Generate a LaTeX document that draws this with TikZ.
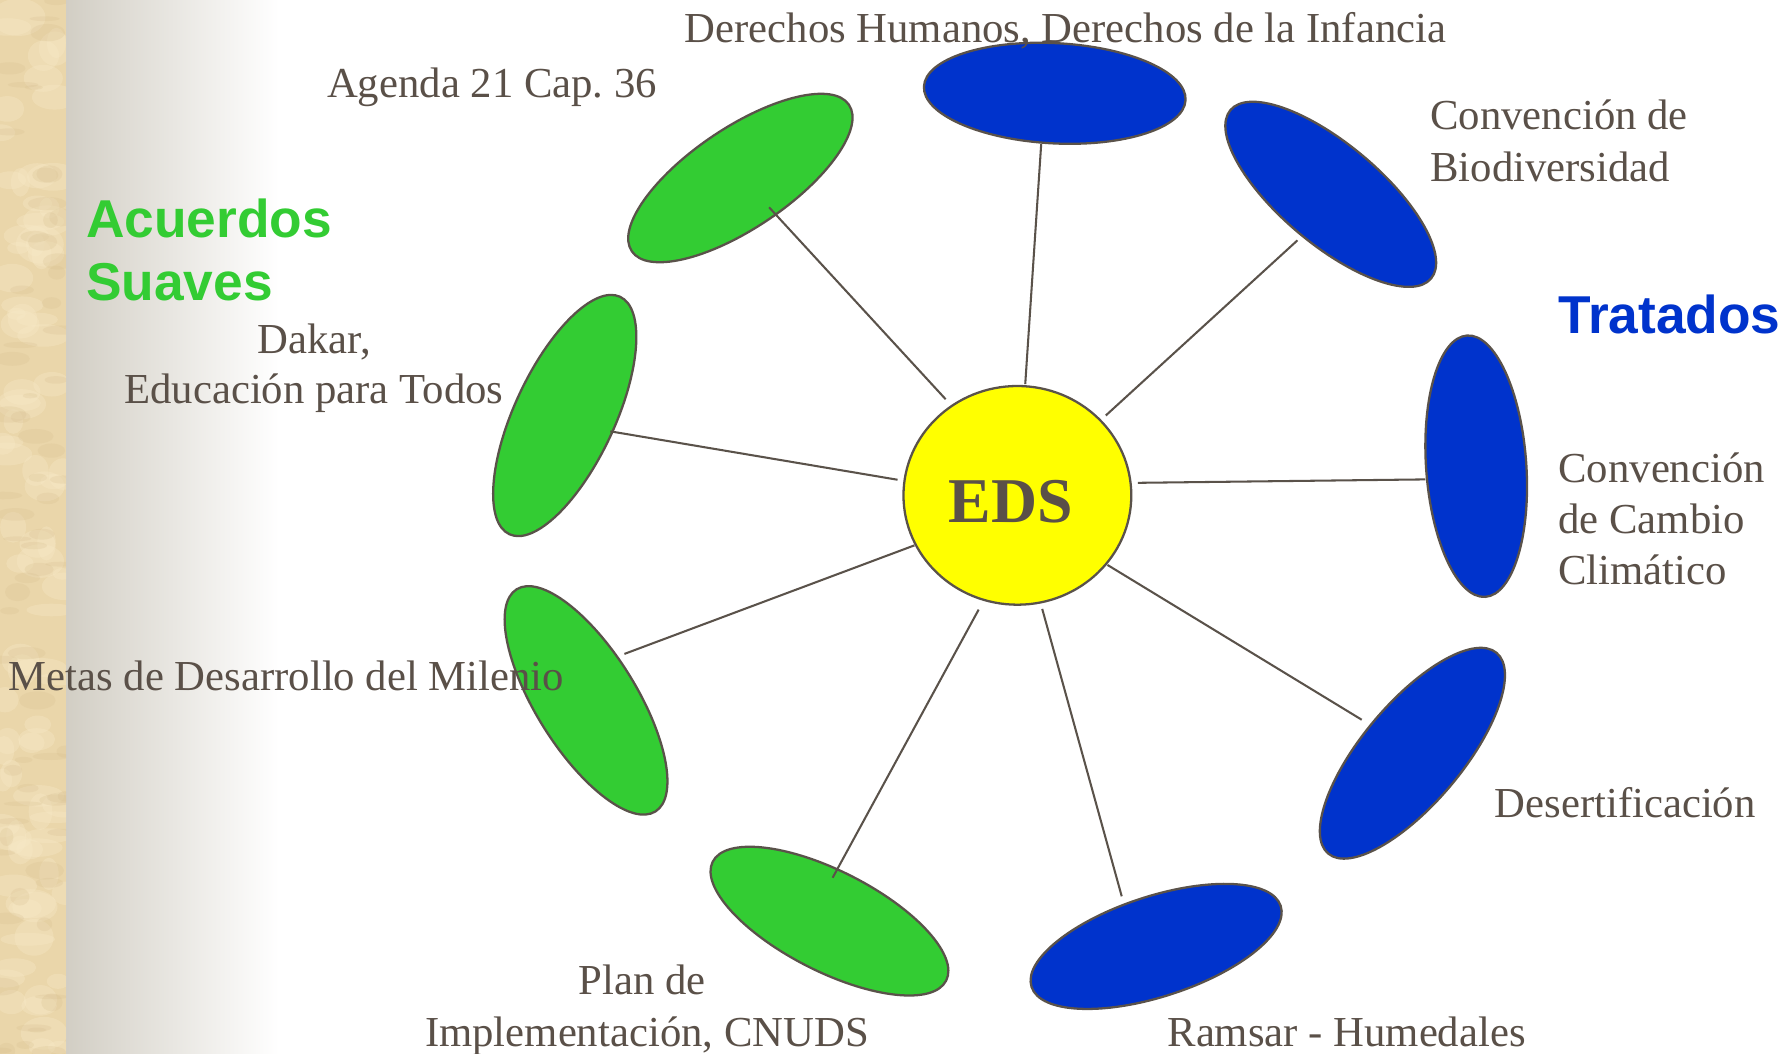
\documentclass[tikz,border=0pt]{standalone}
\usepackage{fontspec}
\setmainfont{Liberation Serif}
\newfontfamily\headfont{Liberation Sans}
\usetikzlibrary{shapes.geometric}
\definecolor{grc}{RGB}{51,204,51}
\definecolor{blc}{RGB}{0,51,204}
\definecolor{yel}{RGB}{255,255,0}
\definecolor{edgec}{RGB}{90,82,74}
\definecolor{txtc}{RGB}{90,80,72}
\definecolor{beige}{RGB}{234,214,170}
\definecolor{beigeL}{RGB}{248,234,200}
\definecolor{beigeD}{RGB}{212,188,140}
\definecolor{grayL}{RGB}{210,206,196}
\tikzset{
  lbl/.style={font=\fontsize{37.5}{45}\selectfont, text=txtc, inner sep=0pt},
  head/.style={font=\headfont\bfseries\fontsize{46.8}{55}\selectfont, inner sep=0pt},
  petal/.style={ellipse, draw=edgec, line width=2pt, minimum width=230pt, minimum height=88pt, inner sep=0pt},
  gpetal/.style={petal, fill=grc},
  bpetal/.style={petal, fill=blc},
  link/.style={draw=edgec, line width=1.8pt},
}
\begin{document}
\frenchspacing
\begin{tikzpicture}[x=1pt,y=1pt]
\useasboundingbox (0,0) rectangle (1568,925.3);
% background
\fill[white] (0,0) rectangle (1568,925.3);
\shade[left color=grayL, right color=white] (58,0) rectangle (245,925.3);
\begin{scope}
  \clip (0,0) rectangle (58,925.3);
  \fill[beige] (0,0) rectangle (58,925.3);
  \pgfmathsetseed{11}
  \foreach \i in {1,...,90} {
    \pgfmathsetmacro\xx{rnd*58}
    \pgfmathsetmacro\yy{rnd*925}
    \pgfmathsetmacro\rr{8+rnd*16}
    \pgfmathsetmacro\ss{5+rnd*12}
    \fill[beigeL, opacity=0.35] (\xx,\yy) ellipse ({\rr} and {\ss});
  }
  \foreach \i in {1,...,70} {
    \pgfmathsetmacro\xx{rnd*58}
    \pgfmathsetmacro\yy{rnd*925}
    \pgfmathsetmacro\rr{6+rnd*12}
    \pgfmathsetmacro\ss{2+rnd*6}
    \fill[beigeD, opacity=0.22] (\xx,\yy) ellipse ({\rr} and {\ss});
  }
\end{scope}

% center
\node[ellipse, draw=edgec, line width=2pt, fill=yel, minimum width=200pt, minimum height=192pt, inner sep=0pt] (eds) at (893.2,490.4) {};

% petals
\node[bpetal, rotate=-3] (derechos) at (926,843.4) {};
\node[gpetal, rotate=34] (agenda) at (650,769) {};
\node[bpetal, rotate=-40] (biodiv) at (1168.3,754.7) {};
\node[bpetal, rotate=94] (clima) at (1296,516) {};
\node[bpetal, rotate=50] (desert) at (1240,264) {};
\node[bpetal, rotate=18] (ramsar) at (1015,94.4) {};
\node[gpetal, rotate=-27] (plan) at (728.2,116.6) {};
\node[gpetal, rotate=-58] (metas) at (514.5,310.4) {};
\node[gpetal, rotate=65] (dakar) at (495.8,560.5) {};

% connector end points
\coordinate (s1) at (900.1,588.1);  \coordinate (e1) at (914.1,798.8);
\coordinate (s2) at (830.2,574.8);  \coordinate (e2) at (675.2,743.3);
\coordinate (s3) at (970.8,560.5);  \coordinate (e3) at (1139.1,714.3);
\coordinate (s4) at (999.0,501.4);  \coordinate (e4) at (1251.3,504.4);
\coordinate (s5) at (972.3,429.3);  \coordinate (e5) at (1195.5,293.4);
\coordinate (s6) at (915.0,390.7);  \coordinate (e6) at (984.8,138.4);
\coordinate (s7) at (859.2,390.1);  \coordinate (e7) at (731.0,154.7);
\coordinate (s8) at (802.8,446.5);  \coordinate (e8) at (548.2,351.2);
\coordinate (s9) at (788.0,504.1);  \coordinate (e9) at (535.8,546.6);
\foreach \k in {1,...,9} { \draw[link] (s\k) -- (e\k); }

% EDS label
\node[font=\bfseries\fontsize{56}{62}\selectfont, text=txtc, inner sep=0pt, anchor=base] (edslbl) at (887.5,467) {EDS};

% labels
\node[lbl, anchor=base west] (tDer) at (601,887.9) {Derechos Humanos, Derechos de la Infancia};
\node[lbl, anchor=base west] (tAg) at (287,839.4) {Agenda 21 Cap. 36};
\node[lbl, anchor=base west] (tBio1) at (1255.6,811.4) {Convención de};
\node[lbl, anchor=base west] (tBio2) at (1255.6,765.6) {Biodiversidad};
\node[head, text=blc, anchor=base west] (tTrat) at (1368,632.4) {Tratados};
\node[lbl, anchor=base west] (tCl1) at (1368,502) {Convención};
\node[lbl, anchor=base west] (tCl2) at (1368,456.7) {de Cambio};
\node[lbl, anchor=base west] (tCl3) at (1368,412) {Climático};
\node[lbl, anchor=base west] (tDes) at (1312,208) {Desertificación};
\node[lbl, anchor=base west] (tRam) at (1024.8,6.4) {Ramsar - Humedales};
\node[lbl, anchor=base] (tPl1) at (564,52.4) {Plan de};
\node[lbl, anchor=base] (tPl2) at (568,6.4) {Implementación, CNUDS};
\node[lbl, anchor=base west] (tMet) at (7.6,319.2) {Metas de Desarrollo del Milenio};
\node[lbl, anchor=base] (tDak1) at (276,615.1) {Dakar,};
\node[lbl, anchor=base] (tDak2) at (275.5,570.8) {Educación para Todos};
\node[head, text=grc, anchor=base west] (tAc1) at (75.5,717.2) {Acuerdos};
\node[head, text=grc, anchor=base west] (tAc2) at (75.5,661.6) {Suaves};
\end{tikzpicture}
\end{document}
